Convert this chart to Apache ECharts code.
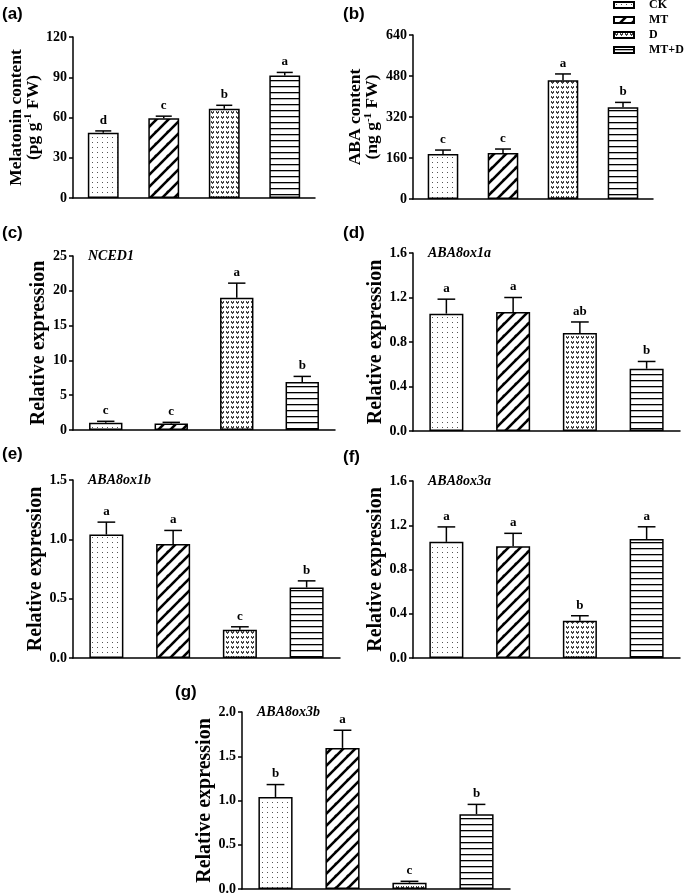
<!DOCTYPE html>
<html><head><meta charset="utf-8">
<script src="https://cdn.jsdelivr.net/npm/echarts@6/dist/echarts.min.js"></script>
<style>html,body{margin:0;padding:0;background:#fff}#c{width:685px;height:896px}</style>
</head><body><div id="c"></div>
<script>
// ---- data ----
const categories = ['CK', 'MT', 'D', 'MT+D'];

const melatonin = [48.7, 59.4, 66.5, 91.3];
const melatoninErr = [1.3, 1.6, 2.6, 2.3];
const melatoninLetters = ['d', 'c', 'b', 'a'];

const aba = [176, 180, 463, 358];
const abaErr = [15, 15, 25, 19];
const abaLetters = ['c', 'c', 'a', 'b'];

const nced1 = [1.05, 0.95, 19.0, 6.9];
const nced1Err = [0.2, 0.15, 2.1, 0.8];
const nced1Letters = ['c', 'c', 'a', 'b'];

const ox1a = [1.055, 1.07, 0.88, 0.56];
const ox1aErr = [0.13, 0.13, 0.1, 0.065];
const ox1aLetters = ['a', 'a', 'ab', 'b'];

const ox1b = [1.04, 0.96, 0.238, 0.594];
const ox1bErr = [0.105, 0.115, 0.025, 0.056];
const ox1bLetters = ['a', 'a', 'c', 'b'];

const ox3a = [1.05, 1.01, 0.337, 1.076];
const ox3aErr = [0.135, 0.117, 0.045, 0.11];
const ox3aLetters = ['a', 'a', 'b', 'a'];

const ox3b = [1.04, 1.594, 0.071, 0.846];
const ox3bErr = [0.14, 0.2, 0.016, 0.11];
const ox3bLetters = ['b', 'a', 'c', 'b'];

const yTicksA = { max: 120, interval: 30, dec: 0 };
const yTicksB = { max: 640, interval: 160, dec: 0 };
const yTicksC = { max: 25, interval: 5, dec: 0 };
const yTicksD = { max: 1.6, interval: 0.4, dec: 1 };
const yTicksE = { max: 1.5, interval: 0.5, dec: 1 };
const yTicksF = { max: 1.6, interval: 0.4, dec: 1 };
const yTicksG = { max: 2.0, interval: 0.5, dec: 1 };

// ---- patterns ----
function tile(w, h, draw) {
  const c = document.createElement('canvas'); c.width = w; c.height = h;
  const g = c.getContext('2d'); g.fillStyle = '#fff'; g.fillRect(0, 0, w, h);
  draw(g); return { image: c, repeat: 'repeat' };
}
const patCK = tile(5, 5, g => { g.fillStyle = '#555'; g.fillRect(2, 2, 1, 1); });
const patMT = tile(12, 12, g => {
  g.strokeStyle = '#000'; g.lineWidth = 2.6; g.lineCap = 'square';
  [[-12, 12], [0, 12], [12, 12], [0, 24], [-12, 0]].forEach(([ox, oy]) => {
    g.beginPath(); g.moveTo(ox, oy); g.lineTo(ox + 12, oy - 12); g.stroke();
  });
});
const patD = tile(5, 5, g => {
  g.fillStyle = '#444';
  g.fillRect(1, 1, 1, 1); g.fillRect(3, 1, 1, 1);
  g.fillRect(1, 2, 3, 1); g.fillRect(2, 3, 1, 1);
});
const patMTD = tile(6, 6, g => { g.fillStyle = '#000'; g.fillRect(0, 2, 6, 1.3); });
const patterns = [patCK, patMT, patD, patMTD];

// ---- layout ----
const serif = "'Liberation Serif','Times New Roman',serif";
const sans = "'Liberation Sans',Arial,sans-serif";
const panels = [
  { tag: '(a)', vals: melatonin, err: melatoninErr, letters: melatoninLetters, y: yTicksA,
    grid: { left: 73, top: 37, width: 242, height: 161 }, name: 'Melatonin content\n(pg g{sup|-1} FW)', nameGap: 30, nameSize: 17.5, gene: null, tagPos: [2, 16] },
  { tag: '(b)', vals: aba, err: abaErr, letters: abaLetters, y: yTicksB,
    grid: { left: 413, top: 35, width: 240, height: 164 }, name: 'ABA content\n(ng g{sup|-1} FW)', nameGap: 32, nameSize: 17.5, gene: null, tagPos: [343, 16] },
  { tag: '(c)', vals: nced1, err: nced1Err, letters: nced1Letters, y: yTicksC,
    grid: { left: 73, top: 256, width: 262, height: 174 }, name: 'Relative expression', nameGap: 26, nameSize: 20, gene: 'NCED1', tagPos: [2, 235] },
  { tag: '(d)', vals: ox1a, err: ox1aErr, letters: ox1aLetters, y: yTicksD,
    grid: { left: 413, top: 253, width: 267, height: 178 }, name: 'Relative expression', nameGap: 26, nameSize: 20, gene: 'ABA8ox1a', tagPos: [343, 235] },
  { tag: '(e)', vals: ox1b, err: ox1bErr, letters: ox1bLetters, y: yTicksE,
    grid: { left: 73, top: 480, width: 267, height: 178 }, name: 'Relative expression', nameGap: 26, nameSize: 20, gene: 'ABA8ox1b', tagPos: [2, 456] },
  { tag: '(f)', vals: ox3a, err: ox3aErr, letters: ox3aLetters, y: yTicksF,
    grid: { left: 413, top: 481, width: 267, height: 177 }, name: 'Relative expression', nameGap: 26, nameSize: 20, gene: 'ABA8ox3a', tagPos: [343, 459] },
  { tag: '(g)', vals: ox3b, err: ox3bErr, letters: ox3bLetters, y: yTicksG,
    grid: { left: 242, top: 712, width: 268, height: 177 }, name: 'Relative expression', nameGap: 24, nameSize: 20, gene: 'ABA8ox3b', tagPos: [175, 694] }
];

const grids = [], xAxes = [], yAxes = [], series = [], graphics = [];
panels.forEach((p, pi) => {
  grids.push(Object.assign({ containLabel: false }, p.grid));
  xAxes.push({ type: 'category', gridIndex: pi, data: categories,
    axisLine: { lineStyle: { color: '#000', width: 1.5 } }, axisTick: { show: false }, axisLabel: { show: false } });
  yAxes.push({ type: 'value', gridIndex: pi, min: 0, max: p.y.max, interval: p.y.interval,
    axisLine: { show: true, lineStyle: { color: '#000', width: 1.5 } },
    axisTick: { show: true, length: 4, lineStyle: { color: '#000', width: 1.5 } },
    splitLine: { show: false },
    axisLabel: { color: '#000', fontFamily: serif, fontWeight: 'bold', fontSize: 14, margin: 6,
      formatter: v => v.toFixed(p.y.dec) },
    name: p.name, nameLocation: 'middle', nameRotate: 90, nameGap: p.nameGap,
    nameTextStyle: { color: '#000', fontFamily: serif, fontWeight: 'bold', fontSize: p.nameSize, lineHeight: 17,
      rich: { sup: { fontFamily: serif, fontWeight: 'bold', fontSize: 11, padding: [0, 0, 9, 0], color: '#000' } } }
  });
  categories.forEach((c, k) => {
    series.push({ type: 'bar', name: c, xAxisIndex: pi, yAxisIndex: pi, barWidth: '51%', barGap: '-100%',
      data: categories.map((_, j) => (j === k ? p.vals[j] : '-')),
      itemStyle: { color: patterns[k], borderColor: '#000', borderWidth: 1.5 }, silent: true });
  });
  const letters = p.letters;
  series.push({ type: 'custom', xAxisIndex: pi, yAxisIndex: pi, z: 10, silent: true,
    data: p.vals.map((v, i) => [i, v, p.err[i]]),
    renderItem: (params, api) => {
      const i = api.value(0), v = api.value(1), e = api.value(2);
      const b = api.coord([i, v]), t = api.coord([i, v + e]);
      const hw = api.size([1, 0])[0] * 0.51 * 0.26;
      return { type: 'group', children: [
        { type: 'line', shape: { x1: b[0], y1: b[1], x2: t[0], y2: t[1] }, style: { stroke: '#000', lineWidth: 1.5 } },
        { type: 'line', shape: { x1: t[0] - hw, y1: t[1], x2: t[0] + hw, y2: t[1] }, style: { stroke: '#000', lineWidth: 1.5 } },
        { type: 'text', x: t[0], y: t[1] - 4, style: { text: letters[params.dataIndex], align: 'center', verticalAlign: 'bottom',
          font: 'bold 13px ' + serif, fill: '#000' } }
      ] };
    } });
  graphics.push({ type: 'text', left: p.tagPos[0], top: p.tagPos[1] - 10,
    style: { text: p.tag, font: 'bold 17px ' + sans, fill: '#000' } });
  if (p.gene) {
    graphics.push({ type: 'text', x: p.grid.left + 15, y: p.grid.top,
      style: { text: p.gene, font: 'italic bold 14px ' + serif, fill: '#000', verticalAlign: 'middle' } });
  }
});

const chart = echarts.init(document.getElementById('c'), null, { renderer: 'canvas' });
chart.setOption({
  animation: false,
  backgroundColor: '#fff',
  grid: grids, xAxis: xAxes, yAxis: yAxes, series: series, graphic: graphics,
  legend: { data: categories, orient: 'vertical', left: 613, top: -1, padding: 0, itemWidth: 20, itemHeight: 6, itemGap: 3,
    selectedMode: false, icon: 'rect',
    textStyle: { color: '#000', fontFamily: serif, fontWeight: 'bold', fontSize: 12, lineHeight: 12, padding: [0, 0, 0, 10] } }
});
</script></body></html>
